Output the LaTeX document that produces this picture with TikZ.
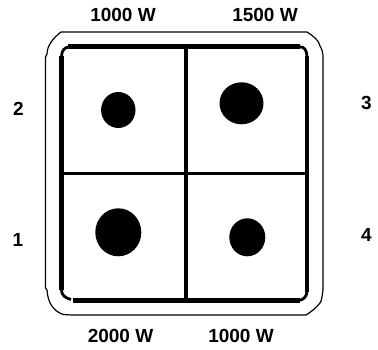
\documentclass[tikz,border=0pt]{standalone}
\usepackage{fontspec}
\setmainfont{Liberation Sans}
\tikzset{
  lbl/.style={inner sep=0pt,font=\fontsize{19}{21}\selectfont\bfseries,text=black},
  outerline/.style={draw=black,line width=1.2pt},
  heavy/.style={draw=black,line width=4.8pt},
  cornerline/.style={draw=black,line width=2.8pt},
  midline/.style={draw=black,line width=4.4pt},
  crossline/.style={draw=black,line width=3.2pt},
  burner/.style={fill=black,draw=none}
}
\begin{document}
\begin{tikzpicture}[x=1pt,y=-1pt]
\useasboundingbox (0,0) rectangle (378,349);
% outer rim
\draw[outerline,line join=round] (72,32) -- (298,32) -- (307,32) .. controls (313,36) and (319,40) .. (320,46) .. controls (322,49) and (323,53) .. (323,57) -- (323,290)
  .. controls (322,296) and (322,300) .. (320,303) .. controls (316,308) and (311,312) .. (306,315) -- (72,315) -- (63,314.5) .. controls (54,311) and (48,304) .. (47,290) -- (45.5,288) -- (45.5,57) -- (47,54) .. controls (47,46) and (53,38) .. (61,32) -- cycle;
% inner frame
\draw[heavy] (68,46.8) -- (300,46.8);
\draw[heavy] (61.5,56) -- (61.5,290);
\draw[heavy] (307,56) -- (307,292);
\draw[heavy] (73,300.3) -- (300,300.3);
% inner corners
\draw[cornerline] (61.5,57) .. controls (61.5,51) and (64,47) .. (70,46.8);
\draw[cornerline] (300,46.8) .. controls (304,46.8) and (307,50) .. (307,57);
\draw[cornerline] (61.5,290) .. controls (61.5,295) and (65,298) .. (71,299.5);
\draw[cornerline] (300,300.3) .. controls (303,299.5) and (307,297) .. (307,291);
% dividers
\draw[midline] (186,49) -- (186,299);
\draw[crossline] (62,173.5) -- (306,173.5);
% burners
\path[burner] (118.3,110) ellipse [x radius=17.2,y radius=18];
\path[burner] (241.5,103.3) ellipse [x radius=22,y radius=21];
\path[burner] (118.3,232.3) ellipse [x radius=23,y radius=24];
\path[burner] (247.3,237.3) ellipse [x radius=18,y radius=19];
% labels
\node[lbl] (w1) at (123,15) {1000 W};
\node[lbl] (w2) at (265,15) {1500 W};
\node[lbl] (w3) at (120.5,336) {2000 W};
\node[lbl] (w4) at (241,336) {1000 W};
\node[lbl] (n2) at (18.5,108.5) {2};
\node[lbl] (n1) at (18,240) {1};
\node[lbl] (n3) at (366.5,103) {3};
\node[lbl] (n4) at (366.5,235) {4};
\end{tikzpicture}
\end{document}
